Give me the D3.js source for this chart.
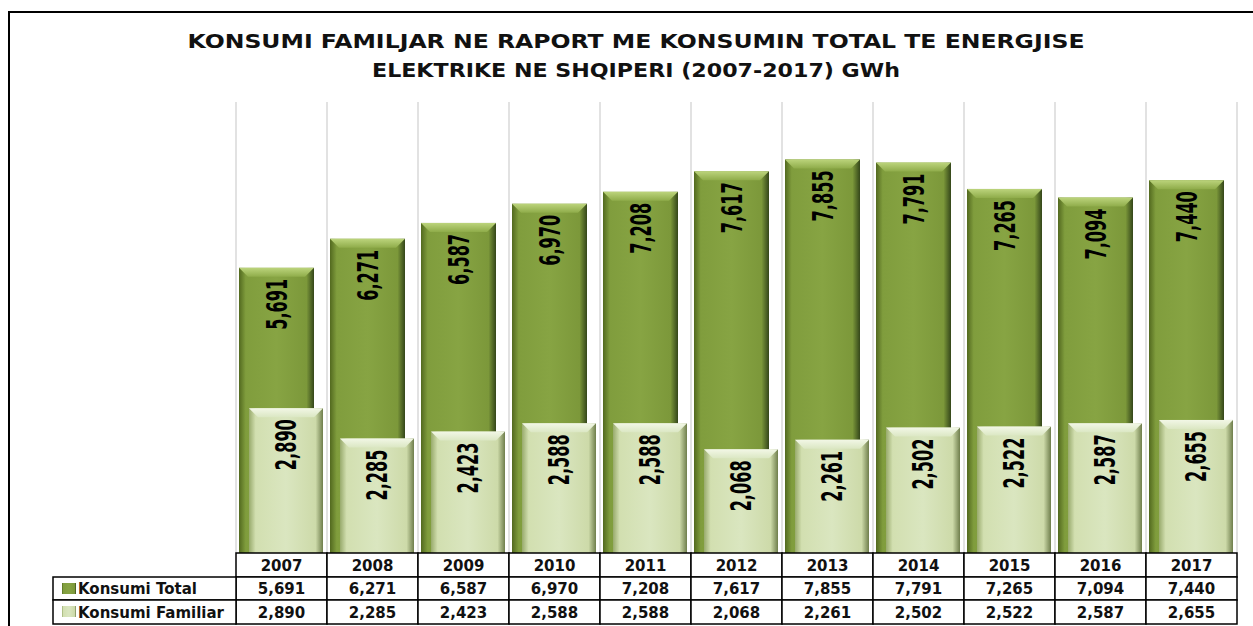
<!DOCTYPE html>
<html>
<head>
<meta charset="utf-8">
<script src="https://cdn.jsdelivr.net/npm/d3@7"></script>
<style>
  body { margin: 0; background: #fff; }
  svg { display: block; }
</style>
</head>
<body>
<svg id="chart" width="1253" height="626"></svg>
<script>
// data
var years = ["2007", "2008", "2009", "2010", "2011", "2012", "2013", "2014", "2015", "2016", "2017"];
var total = [5691, 6271, 6587, 6970, 7208, 7617, 7855, 7791, 7265, 7094, 7440];
var familiar = [2890, 2285, 2423, 2588, 2588, 2068, 2261, 2502, 2522, 2587, 2655];
var seriesNames = ["Konsumi Total", "Konsumi Familiar"];
var titleLines = ["KONSUMI FAMILJAR NE RAPORT ME KONSUMIN TOTAL TE ENERGJISE",
                  "ELEKTRIKE NE SHQIPERI (2007-2017) GWh"];

var svg = d3.select("svg#chart");
var fmt = d3.format(",");
var titleFont = "'DejaVu Sans', 'Open Sans', sans-serif";
var tableFont = "'DejaVu Sans', sans-serif";
var labelFont = "'Liberation Sans Narrow', 'DejaVu Sans Condensed', sans-serif";

var x = d3.scaleBand()
    .domain(years)
    .range([236, 1237]);

var y = d3.scaleLinear()
    .domain([0, 9000])
    .range([553, 102]);

// gradients
var defs = svg.append("defs");

function hGrad(id, stops) {
  var g = defs.append("linearGradient").attr("id", id)
      .attr("x1", "0%").attr("x2", "100%").attr("y1", "0%").attr("y2", "0%");
  stops.forEach(function(s) {
    g.append("stop").attr("offset", s[0]).attr("stop-color", s[1]);
  });
}
function vGrad(id, stops) {
  var g = defs.append("linearGradient").attr("id", id)
      .attr("x1", "0%").attr("x2", "0%").attr("y1", "0%").attr("y2", "100%");
  stops.forEach(function(s) {
    g.append("stop").attr("offset", s[0]).attr("stop-color", s[1]);
  });
}

hGrad("totalBody", [["0%", "#52691f"], ["9%", "#809d3d"], ["50%", "#87a443"], ["90%", "#7c983a"], ["100%", "#34461a"]]);
vGrad("totalTop", [["0%", "#bcd47c"], ["100%", "#8fac4a"]]);
hGrad("famBody", [["0%", "#98aa6c"], ["9%", "#d2dfb0"], ["50%", "#dae6c0"], ["90%", "#cddaa9"], ["100%", "#6f7e4c"]]);
vGrad("famTop", [["0%", "#f2f7e6"], ["100%", "#dbe7c3"]]);

// frame
svg.append("path")
    .attr("d", "M9,626 L9,12 L1253,12")
    .attr("fill", "none")
    .attr("stroke", "#000")
    .attr("stroke-width", 2);

// title
var titleLen = [897, 528];
svg.append("g").selectAll("text")
  .data(titleLines)
  .enter().append("text")
    .attr("x", 636)
    .attr("y", function(d, i) { return 48 + i * 29; })
    .attr("text-anchor", "middle")
    .attr("font-family", titleFont)
    .attr("font-weight", "bold")
    .attr("font-size", "20px")
    .attr("textLength", function(d, i) { return titleLen[i]; })
    .attr("lengthAdjust", "spacingAndGlyphs")
    .attr("fill", "#111")
    .text(function(d) { return d; });

// vertical gridlines
var gridX = years.map(function(d) { return x(d); }).concat([x.range()[1]]);
svg.append("g").selectAll("line")
  .data(gridX)
  .enter().append("line")
    .attr("x1", function(d) { return d; })
    .attr("x2", function(d) { return d; })
    .attr("y1", y.range()[1])
    .attr("y2", y.range()[0])
    .attr("stroke", "#d9d9d9")
    .attr("stroke-width", 1.5);

// bars with bevel
var bevel = 9;

function drawBars(values, dx, w, bodyId, topId, cls) {
  var g = svg.append("g").attr("class", cls);
  var bar = g.selectAll("g")
    .data(values)
    .enter().append("g");

  bar.append("rect")
      .attr("x", function(d, i) { return x(years[i]) + dx; })
      .attr("y", function(d) { return y(d); })
      .attr("width", w)
      .attr("height", function(d) { return y(0) - y(d); })
      .attr("fill", "url(#" + bodyId + ")");

  bar.append("polygon")
      .attr("points", function(d, i) {
        var x0 = x(years[i]) + dx, t = y(d);
        return [[x0, t], [x0 + w, t], [x0 + w - bevel, t + bevel], [x0 + bevel, t + bevel]].join(" ");
      })
      .attr("fill", "url(#" + topId + ")");

  bar.append("text")
      .attr("transform", function(d, i) {
        return "translate(" + (x(years[i]) + dx + w / 2) + "," + (y(d) + 11) + ") rotate(-90)";
      })
      .attr("text-anchor", "end")
      .attr("dy", "0.36em")
      .attr("font-family", labelFont)
      .attr("font-weight", "bold")
      .attr("font-size", "29px")
      .attr("textLength", 51)
      .attr("lengthAdjust", "spacingAndGlyphs")
      .attr("fill", "#000")
      .text(function(d) { return fmt(d); });
}

drawBars(total, 3, 75, "totalBody", "totalTop", "bars-total");
drawBars(familiar, 13, 74, "famBody", "famTop", "bars-familiar");

// data table
var rowTop = [553, 577, 600];
var rowH = [24, 23, 24];
var labelX0 = 53;
var table = svg.append("g").attr("class", "table");
var rows = [years, total.map(fmt), familiar.map(fmt)];

rows.forEach(function(row, r) {
  table.selectAll(".cell" + r)
    .data(row)
    .enter().append("rect")
      .attr("x", function(d, i) { return x(years[i]); })
      .attr("y", rowTop[r])
      .attr("width", x.bandwidth())
      .attr("height", rowH[r])
      .attr("fill", "#fff")
      .attr("stroke", "#000")
      .attr("stroke-width", 1.5);

  table.selectAll(".txt" + r)
    .data(row)
    .enter().append("text")
      .attr("x", function(d, i) { return x(years[i]) + x.bandwidth() / 2; })
      .attr("y", rowTop[r] + rowH[r] / 2 + 5.5)
      .attr("text-anchor", "middle")
      .attr("font-family", tableFont)
      .attr("font-weight", "bold")
      .attr("font-size", "15px")
      .attr("fill", "#111")
      .text(function(d) { return d; });
});

// legend cells
var legendFill = ["url(#totalBody)", "url(#famBody)"];
seriesNames.forEach(function(name, k) {
  var r = k + 1;
  table.append("rect")
      .attr("x", labelX0)
      .attr("y", rowTop[r])
      .attr("width", x.range()[0] - labelX0)
      .attr("height", rowH[r])
      .attr("fill", "#fff")
      .attr("stroke", "#000")
      .attr("stroke-width", 1.5);
  table.append("rect")
      .attr("x", labelX0 + 9)
      .attr("y", rowTop[r] + 6)
      .attr("width", 14)
      .attr("height", 11)
      .attr("fill", legendFill[k]);
  table.append("text")
      .attr("x", labelX0 + 25)
      .attr("y", rowTop[r] + rowH[r] / 2 + 5.5)
      .attr("font-family", tableFont)
      .attr("font-weight", "bold")
      .attr("font-size", "15px")
      .attr("fill", "#111")
      .text(name);
});
</script>
</body>
</html>
